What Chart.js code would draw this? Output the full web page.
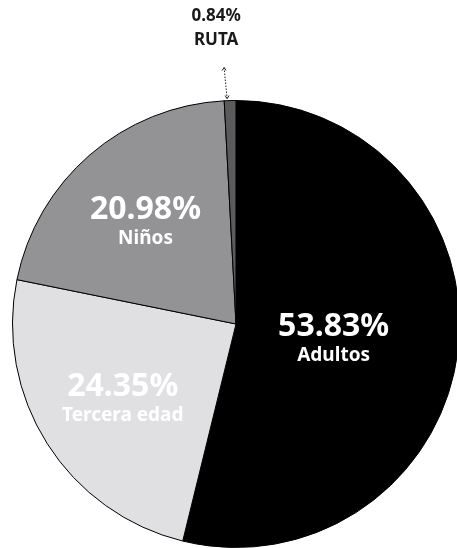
<!DOCTYPE html>
<html>
<head>
<meta charset="utf-8">
<script src="https://cdn.jsdelivr.net/npm/chart.js@4.4.0/dist/chart.umd.min.js"></script>
<style>
  html, body { margin: 0; padding: 0; background: #fff; overflow: hidden; }
  #wrap { width: 472px; height: 548px; }
</style>
</head>
<body>
<div id="wrap"><canvas id="chart" width="472" height="548"></canvas></div>
<script>
// Datos del gráfico
const categorias = ['Adultos', 'Tercera edad', 'Niños', 'RUTA'];
const porcentajes = [53.83, 24.35, 20.98, 0.84];
const colores = ['#000000', '#e0e0e2', '#939396', '#5a5a5c'];

// Etiquetas dentro de cada porción (la pequeña va fuera, arriba)
const etiquetasPlugin = {
    id: 'etiquetas',
    afterDatasetsDraw(chart, args, opts) {
        const ctx = chart.ctx;
        const arcs = chart.getDatasetMeta(0).data;
        ctx.save();
        ctx.textAlign = 'center';
        ctx.textBaseline = 'middle';
        arcs.forEach((arc, i) => {
            const valor = porcentajes[i].toFixed(2) + '%';
            const mid = (arc.startAngle + arc.endAngle) / 2;
            if (porcentajes[i] < 5) {
                // etiqueta exterior con flecha punteada
                const px = arc.x + Math.cos(mid) * arc.outerRadius;
                const py = arc.y + Math.sin(mid) * arc.outerRadius;
                const lx = px - 14;
                ctx.fillStyle = '#1a1a1a';
                ctx.font = 'bold 17px "Noto Sans"';
                ctx.fillText(valor, lx, py - 84);
                ctx.fillText(categorias[i], lx, py - 60);
                const x0 = px - 6, y0 = py - 33;
                ctx.strokeStyle = '#222';
                ctx.lineWidth = 1;
                ctx.setLineDash([1.5, 1.5]);
                ctx.beginPath();
                ctx.moveTo(x0, y0);
                ctx.lineTo(px - 3, py - 2);
                ctx.stroke();
                ctx.setLineDash([]);
                ctx.beginPath();
                ctx.moveTo(x0 - 2, y0 + 3);
                ctx.lineTo(x0, y0);
                ctx.lineTo(x0 + 2, y0 + 3);
                ctx.moveTo(px - 5, py - 5);
                ctx.lineTo(px - 3, py - 2);
                ctx.lineTo(px - 1, py - 5);
                ctx.stroke();
                return;
            }
            const f = opts.factores[i];
            const cx = arc.x + Math.cos(mid) * arc.outerRadius * f;
            const cy = arc.y + Math.sin(mid) * arc.outerRadius * f;
            ctx.fillStyle = '#ffffff';
            ctx.font = 'bold 32px "Noto Sans"';
            ctx.fillText(valor, cx, cy - 9);
            ctx.font = 'bold 19px "Noto Sans"';
            ctx.fillText(categorias[i], cx, cy + 20);
        });
        ctx.restore();
    }
};

const ctx = document.getElementById('chart').getContext('2d');
new Chart(ctx, {
    type: 'pie',
    data: {
        labels: categorias,
        datasets: [{
            data: porcentajes,
            backgroundColor: colores,
            borderColor: '#000000',
            borderWidth: 1
        }]
    },
    options: {
        responsive: false,
        animation: false,
        layout: { padding: { top: 100, bottom: 0, left: 12, right: 12 } },
        plugins: {
            legend: { display: false },
            tooltip: { enabled: false },
            etiquetas: { factores: [0.44, 0.6, 0.62, 0] }
        }
    },
    plugins: [etiquetasPlugin]
});
</script>
</body>
</html>
